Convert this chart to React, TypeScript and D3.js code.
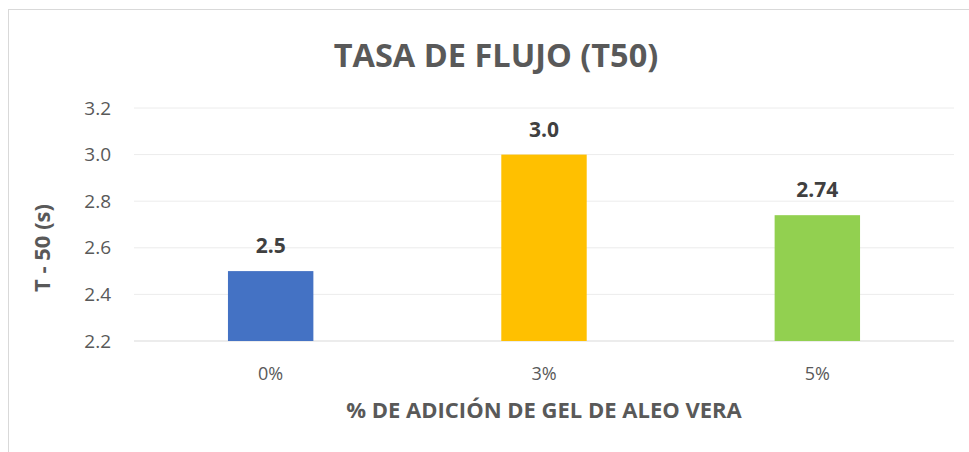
import React from "react";
import * as d3 from "d3";

const categories = ["0%", "3%", "5%"];
const values = [2.5, 3.0, 2.74];
const valueLabels = ["2.5", "3.0", "2.74"];
const barColors = ["#4472C4", "#FFC000", "#92D050"];
const yTicks = [2.2, 2.4, 2.6, 2.8, 3.0, 3.2];
const title = "TASA DE FLUJO (T50)";
const xTitle = "% DE ADICIÓN DE GEL DE ALEO VERA";
const yTitle = "T - 50 (s)";

const W = 969;
const H = 452;
const FONT = "'Open Sans', Lato, sans-serif";

export default function App() {
  const left = 134, right = 954, top = 108, bottom = 341;
  const x = d3.scaleBand().domain(categories).range([left, right]).paddingInner(0.6875).paddingOuter(0.34375);
  const y = d3.scaleLinear().domain([2.2, 3.2]).range([bottom, top]);
  return (
    <svg width={W} height={H} style={{ position: "fixed", left: 0, top: 0, background: "#fff" }} fontFamily={FONT}>
      <rect x={0} y={0} width={W} height={H} fill="#fff" />
      <rect x={8.5} y={9.5} width={1100} height={600} fill="#fff" stroke="#d9d9d9" strokeWidth={1} />
      <text x={496} y={67} textAnchor="middle" fontSize={32.5} fontWeight={700} fill="#595959">{title}</text>
      {yTicks.map((t) => (
        <g key={t}>
          <line x1={left} x2={right} y1={y(t)} y2={y(t)} stroke={t === 2.2 ? "#d9d9d9" : "#ececec"} strokeWidth={1} />
          <text x={111} y={y(t) + 6.5} textAnchor="end" fontSize={19} fill="#595959">{t.toFixed(1)}</text>
        </g>
      ))}
      {categories.map((c, i) => (
        <g key={c}>
          <rect x={x(c)} y={y(values[i])} width={x.bandwidth()} height={bottom - y(values[i])} fill={barColors[i]} />
          <text x={(x(c) as number) + x.bandwidth() / 2} y={y(values[i]) - 18} textAnchor="middle" fontSize={21} fontWeight={700} fill="#404040">{valueLabels[i]}</text>
          <text x={(x(c) as number) + x.bandwidth() / 2} y={379.5} textAnchor="middle" fontSize={18} fill="#595959">{c}</text>
        </g>
      ))}
      <text x={544} y={418} textAnchor="middle" fontSize={22} fontWeight={700} fill="#595959">{xTitle}</text>
      <text transform={`translate(50,${248}) rotate(-90)`} textAnchor="middle" fontSize={22} fontWeight={700} fill="#595959">{yTitle}</text>
    </svg>
  );
}
